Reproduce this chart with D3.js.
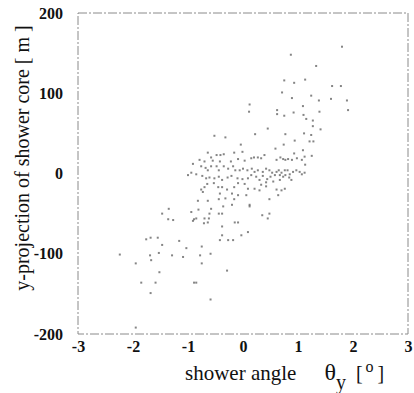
<!DOCTYPE html>
<html>
<head>
<meta charset="utf-8">
<script src="https://cdn.jsdelivr.net/npm/d3@7"></script>
<style>
	body { margin:0; background:#fff; }
	text { font-family: "Liberation Serif", "DejaVu Serif", serif; fill:#111; }
</style>
</head>
<body>
<div id="chart"></div>
<script>
// shower angle theta_y [deg]
var angleX = [
	0.12,0.11,0.62,0.62,0.75,1.09,1.38,1.10,1.15,1.27,1.39,1.27,1.41,0.92,1.91,
	0.45,0.22,-0.52,-0.32,0.77,1.11,1.24,0.74,0.94,1.21,1.28,-0.04,0.59,1.09,1.12,1.25,0.39,-0.01,-0.16,
	-0.64,-0.48,-0.41,-0.35,-0.58,-0.70,-0.55,-0.42,-0.22,-0.09,0.03,0.15,0.20,0.27,0.33,0.68,0.73,0.82,
	0.93,0.98,1.07,1.13,0.89,0.77,0.61,
	-0.79,-0.91,-0.76,-0.68,-0.64,-0.58,-0.48,-0.44,-0.35,-0.27,-0.18,-0.14,-0.06,0.00,0.08,0.16,0.21,0.27,
	0.36,0.42,0.48,0.53,0.61,0.65,0.70,0.76,0.81,0.85,0.91,0.97,1.03,1.07,1.12,
	-0.94,-1.00,-0.85,-0.74,-0.67,-0.61,-0.52,-0.44,-0.38,-0.28,-0.21,-0.10,-0.01,0.09,0.15,0.24,0.30,0.36,
	0.44,0.50,0.58,0.67,0.73,0.77,0.84,0.88,0.67,0.55,0.42,0.33,0.21,0.09,0.03,-0.09,-0.16,-0.29,-0.38,
	-0.45,-0.53,-0.65,-0.70,-0.76,-0.73,-0.42,-0.20,-0.09,0.06,0.30,0.42,0.61,0.70,0.76,0.64,0.48,-0.16,
	-0.32,-0.44,-0.64,-0.82,0.12,0.12,-0.20,-0.36,-0.58,-0.61,-0.81,-0.70,-0.44,-0.38,0.35,0.48,0.45,
	-0.94,-0.85,-0.91,-0.89,-1.35,-1.47,-1.36,-1.27,-0.62,-0.71,-0.64,-0.38,-0.15,-0.09,-0.03,0.09,-0.38,
	-0.42,-0.18,-0.27,-1.68,-1.55,-1.47,-1.16,-1.03,-0.75,-1.53,-1.69,-1.67,-1.29,-1.09,-0.78,-0.59,-0.75,
	-1.52,-0.29,-1.59,-0.89,-0.85,-1.68,-0.59,
	-1.76,-2.24,-1.95,-1.85,-1.95,
	1.80,0.87,1.33,0.75,0.93,1.13,1.62,1.78,0.71,1.24,0.89,1.60,1.89
]
// y-projection of shower core [m]
var coreY = [
	86,77,79,74,72,84,91,73,68,66,77,59,55,76,79,
	56,49,47,45,49,50,48,36,41,40,40,36,31,29,21,22,23,27,26,
	26,23,23,24,20,15,16,15,15,18,16,19,20,20,19,20,18,18,
	25,19,17,11,17,17,17,
	17,12,9,7,4,9,9,4,9,6,9,4,4,6,4,6,2,4,
	2,6,4,1,2,4,1,4,4,-1,2,4,2,-1,1,
	1,-2,-1,-3,-6,-5,-6,-4,-8,-5,-3,-6,-7,-6,-2,-4,-8,-3,
	-7,-4,-2,-2,-4,-2,-5,-8,-8,-10,-11,-14,-19,-19,-13,-12,-17,-20,-17,
	-17,-12,-13,-17,-20,-23,-25,-25,-27,-27,-21,-16,-20,-21,-19,-27,-32,-32,
	-31,-32,-34,-34,-39,-41,-39,-41,-44,-50,-45,-56,-50,-50,-52,-50,-56,
	-48,-56,-59,-57,-44,-50,-57,-58,-56,-62,-61,-66,-61,-61,-77,-73,-77,
	-83,-83,-83,-80,-80,-89,-84,-93,-91,-99,-102,-108,-102,-104,-102,-100,-112,
	-123,-121,-136,-136,-136,-149,-157,
	-82,-101,-112,-136,-192,
	158,148,134,116,113,117,109,109,101,97,94,93,91
]
var xTicks = [-3, -2, -1, 0, 1, 2, 3]
var yTicks = [-200, -100, 0, 100, 200]

var points = angleX.map((a, i) => ({ a: a, c: coreY[i] }))

var svgWidth = 414, svgHeight = 393
var margin = { left:78, right:6, top:13, bottom:59 }
var width = svgWidth - margin.left - margin.right,
	height = svgHeight - margin.top - margin.bottom

var svg = d3.select("#chart")
	.append("svg")
	.attr("width", svgWidth)
	.attr("height", svgHeight)

var g = svg.append("g")
	.attr("transform", "translate(" + margin.left + ", " + margin.top + ")")

var x = d3.scaleLinear().domain([-3, 3]).range([0, width])
var y = d3.scaleLinear().domain([-200, 200]).range([height, 0])

// frame, faint dash-dot like the scan
g.append("rect")
	.attr("width", width)
	.attr("height", height)
	.attr("fill", "none")
	.attr("stroke", "#8a8a8a")
	.attr("stroke-width", 1)
	.attr("stroke-dasharray", "9,2,2,2")

// points
g.selectAll("rect.pt")
	.data(points)
	.enter()
	.append("rect")
	.attr("class", "pt")
	.attr("x", d => x(d.a) - 1)
	.attr("y", d => y(d.c) - 1)
	.attr("width", 2)
	.attr("height", 2)
	.attr("fill", "#333")
	.attr("opacity", 0.6)

//axes
var xAxisCall = d3.axisBottom(x).tickValues(xTicks).tickSize(0).tickPadding(7)
	.tickFormat(d => String(d))
var xg = g.append("g")
	.attr("transform", "translate(0, " + height + ")")
	.call(xAxisCall)
xg.select(".domain").remove()
xg.selectAll("text")
	.attr("font-family", "Liberation Serif, serif")
	.attr("font-size", "16px")
	.attr("font-weight", "bold")
	.attr("fill", "#111")

var yAxisCall = d3.axisLeft(y).tickValues(yTicks).tickSize(0).tickPadding(15)
	.tickFormat(d => String(d))
var yg = g.append("g").call(yAxisCall)
yg.select(".domain").remove()
yg.selectAll("text")
	.attr("font-family", "Liberation Serif, serif")
	.attr("font-size", "16px")
	.attr("font-weight", "bold")
	.attr("fill", "#111")

//Labels
var xl = svg.append("text")
	.attr("x", 185)
	.attr("y", 380)
	.attr("font-size", "21px")
xl.append("tspan").text("shower angle")
xl.append("tspan").attr("dx", 28).attr("font-size", "24px").text("θ")
xl.append("tspan").attr("dy", 9).attr("font-size", "20px").text("y")
xl.append("tspan").attr("dy", -9).attr("dx", 10).attr("font-size", "20px").text("[")
xl.append("tspan").attr("dy", -8).attr("dx", 3).attr("font-size", "16px").text("o")
xl.append("tspan").attr("dy", 8).attr("dx", 4).attr("font-size", "20px").text("]")

svg.append("text")
	.attr("transform", "translate(29, 158) rotate(-90)")
	.attr("text-anchor", "middle")
	.attr("font-size", "20px")
	.text("y-projection of shower core  [ m ]")
</script>
</body>
</html>
